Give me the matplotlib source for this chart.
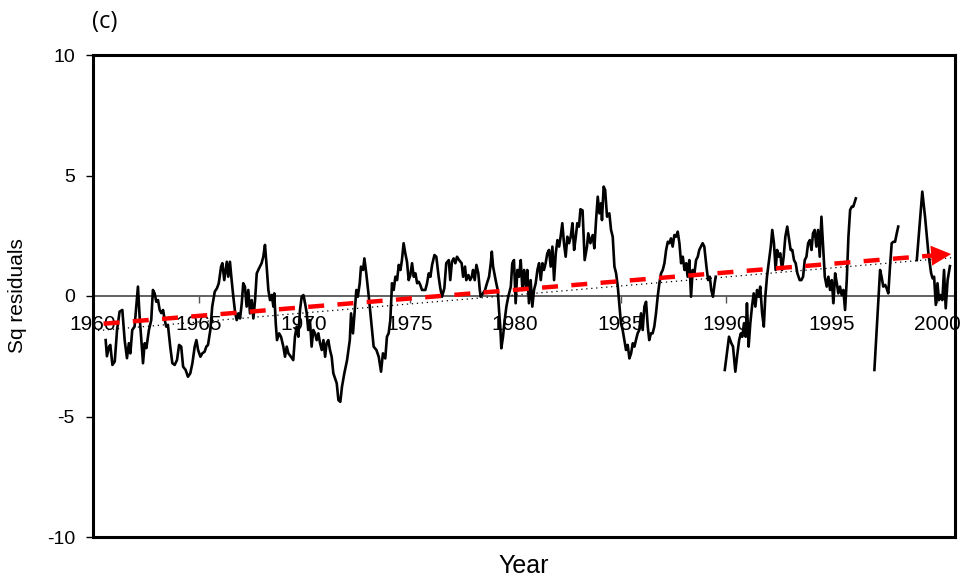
import matplotlib
matplotlib.use("agg")
from matplotlib import pyplot as plt

plt.rcParams['font.family'] = ['Liberation Sans', 'DejaVu Sans']
plt.rcParams['axes.unicode_minus'] = False

# monthly-ish squared residual series (4 pieces with gaps)
seg1_year = [1960.6, 1960.66, 1960.76, 1960.82, 1960.92, 1961.03, 1961.14, 1961.26, 1961.39, 1961.5,
             1961.61, 1961.7, 1961.77, 1961.86, 1961.97, 1962.05, 1962.13, 1962.21, 1962.29, 1962.37,
             1962.45, 1962.53, 1962.65, 1962.76, 1962.84, 1962.92, 1963.0, 1963.08, 1963.16, 1963.24,
             1963.32, 1963.4, 1963.47, 1963.55, 1963.66, 1963.76, 1963.87, 1963.98, 1964.08, 1964.18,
             1964.27, 1964.39, 1964.5, 1964.61, 1964.71, 1964.82, 1964.9, 1964.98, 1965.09, 1965.18,
             1965.29, 1965.37, 1965.45, 1965.56, 1965.65, 1965.77, 1965.88, 1965.96, 1966.07, 1966.13,
             1966.22, 1966.34, 1966.41, 1966.49, 1966.57, 1966.65, 1966.73, 1966.81, 1966.89, 1966.97,
             1967.05, 1967.12, 1967.2, 1967.28, 1967.36, 1967.44, 1967.52, 1967.6, 1967.68, 1967.76,
             1967.87, 1967.99, 1968.07, 1968.15, 1968.23, 1968.31, 1968.39, 1968.47, 1968.55, 1968.59,
             1968.66, 1968.72, 1968.82, 1968.91, 1969.02, 1969.1, 1969.18, 1969.26, 1969.38, 1969.49,
             1969.57, 1969.65, 1969.73, 1969.81, 1969.89, 1969.97, 1970.05, 1970.13, 1970.2, 1970.28,
             1970.36, 1970.44, 1970.52, 1970.6, 1970.68, 1970.76, 1970.84, 1970.92, 1971.0, 1971.07,
             1971.15, 1971.23, 1971.31, 1971.39, 1971.55, 1971.63, 1971.72, 1971.8, 1971.91, 1972.04,
             1972.17, 1972.23, 1972.32, 1972.38, 1972.48, 1972.55, 1972.64, 1972.7, 1972.8, 1972.86,
             1972.95, 1973.07, 1973.18, 1973.3, 1973.43, 1973.54, 1973.65, 1973.74, 1973.85, 1973.93,
             1974.01, 1974.09, 1974.17, 1974.25, 1974.33, 1974.41, 1974.49, 1974.57, 1974.64, 1974.72,
             1974.8, 1974.88, 1974.96, 1975.04, 1975.12, 1975.2, 1975.28, 1975.36, 1975.44, 1975.51,
             1975.59, 1975.75, 1975.83, 1975.91, 1975.99, 1976.07, 1976.18, 1976.27, 1976.38, 1976.46,
             1976.54, 1976.65, 1976.74, 1976.86, 1976.93, 1977.01, 1977.09, 1977.17, 1977.25, 1977.35,
             1977.47, 1977.54, 1977.63, 1977.69, 1977.79, 1977.87, 1977.95, 1978.01, 1978.09, 1978.17,
             1978.26, 1978.33, 1978.37, 1978.48, 1978.58, 1978.67, 1978.77, 1978.85, 1978.9, 1978.96,
             1979.05, 1979.11, 1979.18, 1979.24, 1979.3, 1979.35, 1979.43, 1979.51, 1979.59, 1979.68,
             1979.8, 1979.87, 1979.95, 1980.03, 1980.11, 1980.19, 1980.27, 1980.35, 1980.43, 1980.51,
             1980.58, 1980.66, 1980.74, 1980.82, 1980.9, 1980.98, 1981.06, 1981.14, 1981.22, 1981.3,
             1981.37, 1981.45, 1981.53, 1981.61, 1981.69, 1981.77, 1981.85, 1981.93, 1982.01, 1982.09,
             1982.16, 1982.24, 1982.32, 1982.4, 1982.48, 1982.56, 1982.64, 1982.72, 1982.8, 1982.88,
             1982.95, 1983.03, 1983.1, 1983.2, 1983.3, 1983.41, 1983.47, 1983.57, 1983.68, 1983.76,
             1983.84, 1983.92, 1984.0, 1984.08, 1984.12, 1984.2, 1984.27, 1984.36, 1984.47, 1984.55,
             1984.63, 1984.71, 1984.79, 1984.87, 1984.94, 1985.02, 1985.1, 1985.18, 1985.26, 1985.34,
             1985.42, 1985.5, 1985.58, 1985.66, 1985.73, 1985.81, 1985.89, 1985.97, 1986.05, 1986.13,
             1986.21, 1986.29, 1986.36, 1986.44, 1986.52, 1986.6, 1986.68, 1986.76, 1986.84, 1986.92,
             1987.0, 1987.08, 1987.16, 1987.24, 1987.31, 1987.39, 1987.47, 1987.55, 1987.63, 1987.71,
             1987.79, 1987.87, 1987.95, 1988.03, 1988.11, 1988.18, 1988.26, 1988.34, 1988.42, 1988.5,
             1988.58, 1988.66, 1988.73, 1988.89, 1988.97, 1989.07, 1989.15, 1989.23, 1989.3, 1989.38,
             1989.46, 1989.51]
seg1_val = [-1.83, -2.5, -2.1, -2.03, -2.86, -2.72, -1.41, -0.65, -0.58, -1.83,
            -2.58, -1.96, -2.38, -1.41, -1.27, -0.44, 0.39, -0.86, -1.83, -2.79,
            -1.96, -2.16, -1.41, -1.0, 0.25, 0.11, -0.24, -0.17, -0.58, -0.71,
            -0.58, -1.0, -1.27, -1.2, -2.1, -2.79, -2.86, -2.66, -2.03, -2.1,
            -2.93, -3.07, -3.35, -3.21, -2.79, -2.1, -1.83, -2.24, -2.52, -2.38,
            -2.31, -2.1, -2.03, -1.41, -0.44, 0.18, 0.33, 0.53, 1.22, 1.36,
            0.66, 1.42, 0.8, 1.42, 0.66, -0.03, -0.65, -1.0, -0.72, -0.93,
            -0.3, 0.53, 0.39, -0.44, 0.25, -0.72, -0.17, -0.93, -0.17, 0.94,
            1.15, 1.36, 1.63, 2.12, 1.22, 0.25, -0.17, 0.04, -0.44, 0.11,
            -1.13, -1.83, -1.55, -1.69, -2.1, -2.52, -2.1, -2.38, -2.52, -2.66,
            -1.69, -1.27, -1.69, -0.58, -0.03, 0.04, -0.3, -0.72, -1.41, -1.0,
            -2.1, -1.41, -1.55, -1.83, -1.55, -1.96, -2.24, -1.83, -2.52, -1.96,
            -1.83, -2.24, -2.52, -3.21, -3.62, -4.32, -4.39, -3.76, -3.21, -2.66,
            -1.83, -0.72, -1.55, -0.86, 0.25, -0.03, 0.53, 1.22, 1.08, 1.56,
            0.94, -0.03, -1.0, -2.1, -2.24, -2.52, -3.14, -2.38, -2.59, -1.69,
            -1.55, -1.0, 0.53, 0.25, 0.8, 0.66, 1.29, 1.08, 1.49, 2.19,
            1.77, 1.42, 0.66, 0.87, 1.36, 0.8, 0.94, 0.53, 0.59, 0.46,
            0.25, 0.25, 0.53, 0.94, 0.8, 1.29, 1.7, 1.63, 0.8, 0.32,
            -0.03, 0.32, 1.36, 1.49, 0.66, 1.42, 1.56, 1.36, 1.63, 1.49,
            1.36, 0.8, 1.22, 0.66, 0.87, 0.66, 0.8, 1.08, 0.66, 1.29,
            0.94, 0.25, -0.03, 0.11, 0.25, 0.53, 0.8, 1.36, 1.84, 1.22,
            0.8, 0.53, 0.25, -0.58, -1.27, -2.17, -1.69, -1.0, -0.44, -0.03,
            0.39, 1.36, 1.49, -0.3, 1.08, 0.8, 1.49, 0.25, 1.08, 0.39,
            1.08, -0.3, 0.66, -0.44, 0.25, 0.53, 1.08, 1.36, 0.66, 1.36,
            1.08, 1.36, 1.77, 1.91, 1.22, 2.05, 0.66, 1.77, 2.32, 2.05,
            2.46, 3.02, 2.19, 1.63, 2.46, 2.19, 2.46, 3.02, 1.91, 2.46,
            3.02, 2.88, 3.6, 3.55, 1.49, 2.05, 2.6, 2.19, 2.53, 1.98,
            3.15, 4.12, 3.43, 3.85, 3.15, 4.54, 4.4, 3.29, 3.43, 2.74,
            2.46, 1.22, 0.94, 0.39, -0.3, -1.13, -1.41, -1.83, -2.24, -2.03,
            -2.59, -2.38, -1.96, -2.1, -1.83, -1.55, -1.41, -0.72, -1.41, -0.44,
            -0.24, -1.27, -1.83, -1.55, -1.55, -1.27, -0.72, -0.03, 0.53, 0.94,
            1.08, 1.36, 1.91, 2.25, 2.19, 2.39, 2.05, 2.53, 2.46, 2.67,
            2.19, 1.36, 1.63, 1.08, 1.36, 0.8, 1.49, -0.03, 1.08, 0.94,
            1.49, 1.63, 1.91, 2.19, 2.05, 1.22, 0.66, 0.8, 0.25, -0.03,
            0.53, 0.8]

seg2_year = [1989.94, 1990.02, 1990.14, 1990.25, 1990.33, 1990.44, 1990.52, 1990.62, 1990.7, 1990.77,
             1990.85, 1990.93, 1990.99, 1991.07, 1991.15, 1991.23, 1991.31, 1991.39, 1991.47, 1991.55,
             1991.62, 1991.71, 1991.79, 1991.86, 1991.94, 1992.02, 1992.12, 1992.19, 1992.27, 1992.35,
             1992.42, 1992.5, 1992.57, 1992.65, 1992.73, 1992.81, 1992.9, 1992.98, 1993.06, 1993.14,
             1993.22, 1993.3, 1993.38, 1993.49, 1993.57, 1993.65, 1993.73, 1993.81, 1993.89, 1993.97,
             1994.05, 1994.12, 1994.2, 1994.28, 1994.36, 1994.44, 1994.52, 1994.6, 1994.68, 1994.77,
             1994.85, 1994.93, 1995.01, 1995.09, 1995.17, 1995.25, 1995.32, 1995.4, 1995.48, 1995.56,
             1995.64, 1995.72, 1995.8, 1995.88, 1995.96, 1996.03, 1996.15]
seg2_val = [-3.07, -2.52, -1.69, -1.96, -2.1, -3.14, -2.52, -1.83, -1.55, -1.69,
            -1.13, -1.69, -0.3, -2.1, -1.13, -0.44, 0.11, -0.44, 0.25, -0.03,
            0.39, -0.72, -1.27, -0.03, 0.8, 1.36, 2.05, 2.74, 2.19, 1.08,
            1.91, 1.63, 1.77, 1.08, 1.63, 2.46, 2.88, 2.39, 1.91, 1.91,
            1.49, 1.36, 0.94, 0.66, 0.66, 0.8, 1.49, 1.63, 2.19, 2.32,
            1.91, 2.6, 2.74, 2.05, 2.74, 1.63, 3.29, 2.05, 0.8, 0.39,
            0.8, 0.25, 0.66, -0.3, 0.94, 0.53, 0.11, 0.39, 0.04, 0.25,
            -0.58, 0.66, 2.46, 3.57, 3.71, 3.71, 4.05]

seg3_year = [1997.03, 1997.3, 1997.37, 1997.45, 1997.54, 1997.61, 1997.69, 1997.77, 1997.85, 1997.93,
             1998.01, 1998.09, 1998.16]
seg3_val = [-3.07, 1.08, 0.8, 0.39, 0.46, 0.32, 0.11, 1.22, 2.19, 2.25,
            2.25, 2.6, 2.88]

seg4_year = [1999.04, 1999.3, 1999.43, 1999.59, 1999.72, 1999.79, 1999.86, 1999.94, 2000.02, 2000.09,
             2000.17, 2000.25, 2000.33, 2000.41, 2000.5, 2000.61]
seg4_val = [1.49, 4.33, 3.29, 1.77, 0.94, 0.73, 0.8, -0.37, 0.53, -0.17,
            0.04, -0.17, 1.08, -0.51, 0.66, 1.24]

segments = [(seg1_year, seg1_val), (seg2_year, seg2_val), (seg3_year, seg3_val), (seg4_year, seg4_val)]

# trend lines (start/end)
trend_year = [1960.5, 2000.8]
trend_val = [-1.15, 1.75]
fit_year = [1960.0, 2000.85]
fit_val = [-1.45, 1.6]

year_ticks = [1960, 1965, 1970, 1975, 1980, 1985, 1990, 1995, 2000]
y_ticks = [-10, -5, 0, 5, 10]

fig = plt.figure(figsize=(9.63, 5.76), dpi=100)
ax = fig.add_axes([93 / 963, 1 - 537 / 576, (955 - 93) / 963, (537 - 55) / 576])

ax.set_xlim(1960.0, 2000.85)
ax.set_ylim(-10, 10)

# black series
for yrs, vals in segments:
    ax.plot(yrs, vals, color='black', linewidth=1.9, zorder=3)

# thin dotted fit line
ax.plot(fit_year, fit_val, color='black', linestyle=(0, (1, 3)), linewidth=0.9, zorder=4)

# red dashed trend + arrow head
ax.plot([trend_year[0], trend_year[1] - 0.75], [trend_val[0], trend_val[1] - 0.05],
        color='red', linestyle=(0, (3.6, 3.0)), linewidth=3.2, zorder=5)
ax.annotate('', xy=(trend_year[1], trend_val[1]), xytext=(trend_year[1] - 1.0, trend_val[1] - 0.07),
            arrowprops=dict(arrowstyle='-|>', color='red', lw=0, mutation_scale=36), zorder=6)

# frame
for s in ax.spines.values():
    s.set_linewidth(2.2)
    s.set_color('black')

ax.set_xticks([])
ax.set_yticks(y_ticks)
ax.set_yticklabels([str(v) for v in y_ticks])
ax.tick_params(axis='y', direction='out', length=5, width=1, labelsize=14, pad=8)

# zero line with year ticks
zero_pos = (0 - (-10)) / 20.0
sec = ax.secondary_xaxis(zero_pos)
sec.set_alignment('bottom')
sec.spines['bottom'].set_color('#555555')
sec.spines['bottom'].set_linewidth(1.3)
sec.set_xticks(year_ticks)
sec.set_xticklabels([str(y) for y in year_ticks])
sec.tick_params(axis='x', direction='out', length=5, width=1, color='#555555', labelsize=15, pad=9)

ax.set_xlabel('Year', fontsize=18, labelpad=12)
ax.set_ylabel('Sq residuals', fontsize=15, labelpad=14)

fig.text(105 / 963, 1 - 22 / 576, '(c)', fontsize=17, ha='center', va='center',
         family=['Open Sans', 'DejaVu Sans'])

fig.savefig('out.png', dpi=100)
